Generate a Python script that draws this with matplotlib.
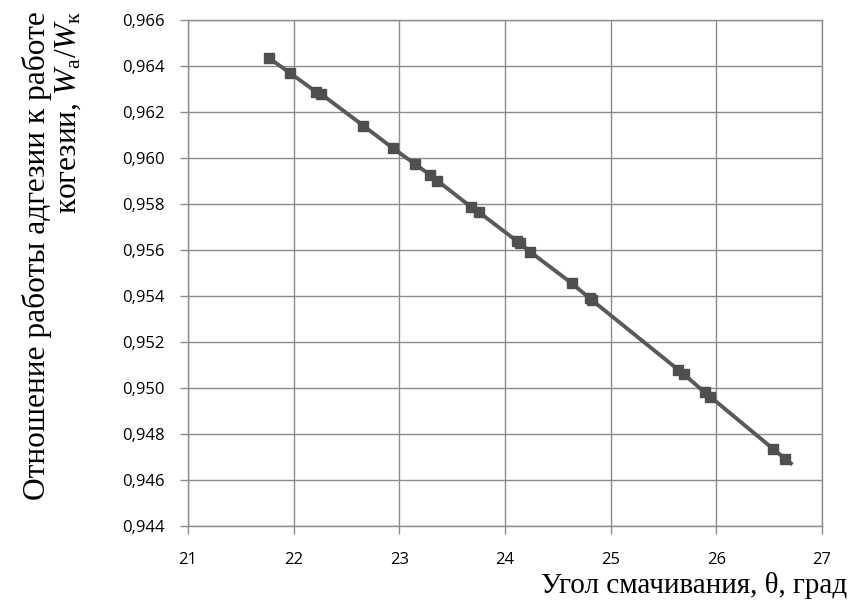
import numpy as np
import matplotlib
matplotlib.use('Agg')
import matplotlib.pyplot as plt
from matplotlib.ticker import FuncFormatter

plt.rcParams['mathtext.fontset'] = 'custom'
plt.rcParams['mathtext.rm'] = 'Liberation Serif'
plt.rcParams['mathtext.it'] = 'Liberation Serif:italic'

# contact angle, deg
theta = [21.77, 21.97, 22.21, 22.26, 22.66, 22.94, 23.15, 23.29, 23.36,
         23.68, 23.75, 24.11, 24.14, 24.24, 24.63, 24.80, 24.82,
         25.64, 25.69, 25.89, 25.94, 26.54, 26.65]
# Wa/Wk ratio
ratio = [0.96433, 0.96368, 0.96288, 0.96278, 0.96140, 0.96042, 0.95973,
         0.95926, 0.95901, 0.95786, 0.95765, 0.95639, 0.95629, 0.95591,
         0.95455, 0.95390, 0.95382, 0.95078, 0.95060, 0.94980, 0.94962,
         0.94733, 0.94691]
line_end = 26.72

xticks = [21, 22, 23, 24, 25, 26, 27]
yticks = [0.944, 0.946, 0.948, 0.950, 0.952, 0.954, 0.956, 0.958, 0.960,
          0.962, 0.964, 0.966]

fig = plt.figure(figsize=(8.51, 6.04), dpi=100)
ax = fig.add_axes([0.2209, 0.1296, 0.7451, 0.8373])

# line through the points, extended a bit past the last one along the trend
k, b = np.polyfit(theta, ratio, 1)
xs = list(theta) + [line_end]
ys = list(ratio) + [ratio[-1] + k * (line_end - theta[-1])]
ax.plot(xs, ys, color='#595959', lw=2.8, solid_capstyle='butt',
        solid_joinstyle='round', zorder=3)
ax.plot(theta, ratio, ls='none', marker='s', ms=6.5, color='#4f4f4f', zorder=4)

ax.set_xlim(21, 27)
ax.set_ylim(0.944, 0.966)
ax.set_xticks(xticks)
ax.set_yticks(yticks)
ax.yaxis.set_major_formatter(FuncFormatter(lambda v, p: ('%.3f' % v).replace('.', ',')))
ax.grid(True, color='#8c8c8c', lw=1.0)
ax.set_axisbelow(True)
for s in ax.spines.values():
    s.set_color('#8c8c8c')
    s.set_linewidth(1.0)
ax.tick_params(direction='out', length=6, width=1.0, color='#8c8c8c',
               labelsize=12, labelcolor='black')
ax.tick_params(axis='x', pad=13)
ax.tick_params(axis='y', pad=11)
for lab in ax.get_xticklabels() + ax.get_yticklabels():
    lab.set_family('Open Sans')

fig.text(0.062, 0.982, 'Отношение работы адгезии к работе\nкогезии, $\\mathit{W}_{\\mathrm{a}}/\\mathit{W}_{\\mathrm{к}}$',
         rotation=90, ha='center', va='top', multialignment='right',
         family='Liberation Serif', fontsize=22.6, linespacing=1.08)
fig.text(0.996, 0.030, 'Угол смачивания, θ, град', ha='right', va='center',
         family='Liberation Serif', fontsize=21)

fig.savefig('out.png', dpi=100)
